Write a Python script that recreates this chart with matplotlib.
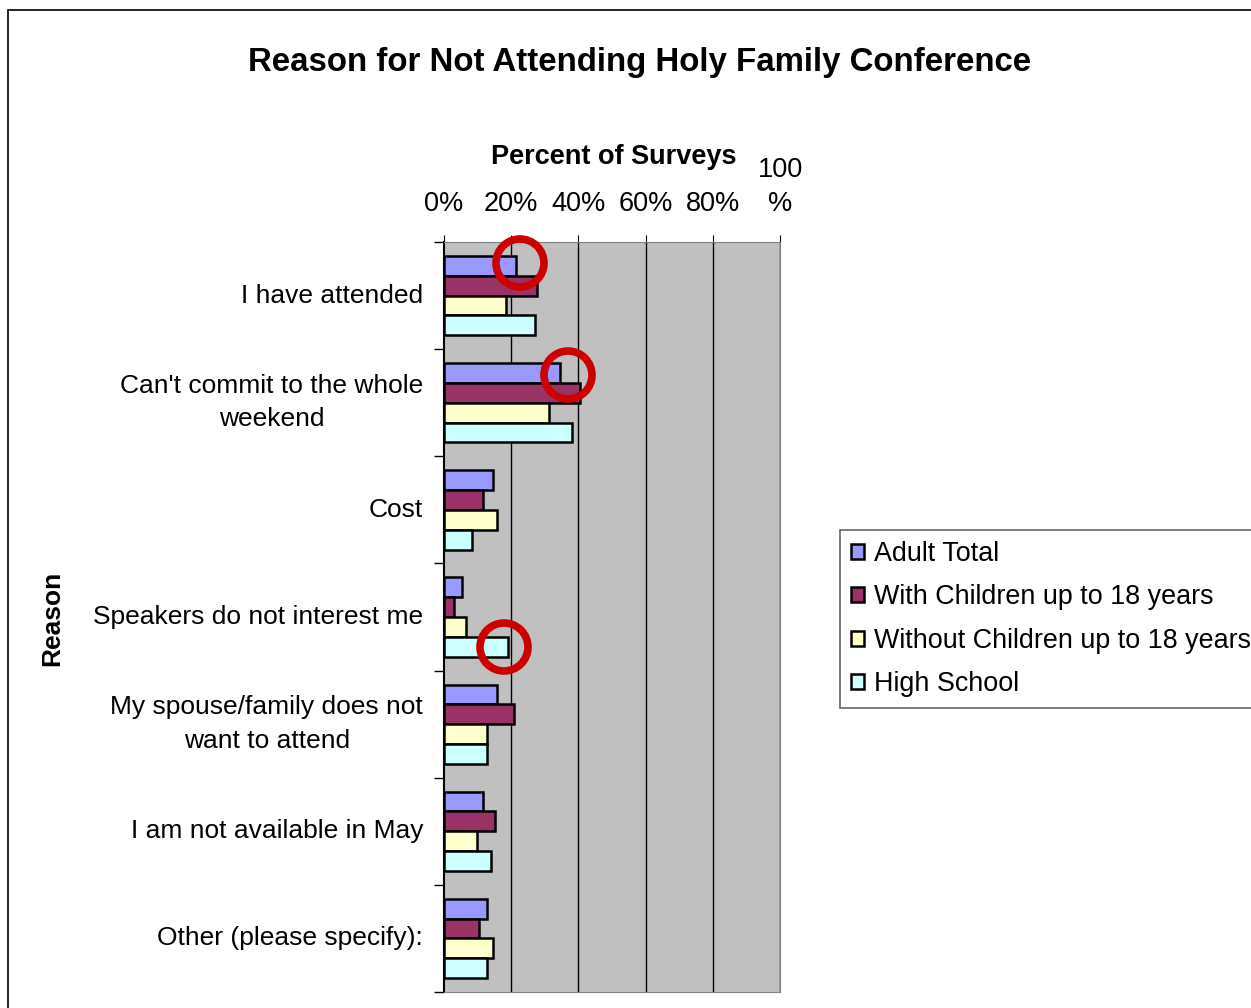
import numpy as np
import matplotlib
matplotlib.use("Agg")
import matplotlib.pyplot as plt
from matplotlib.patches import Circle, Rectangle
from matplotlib.transforms import IdentityTransform

plt.rcParams['font.family'] = ['Liberation Sans', 'DejaVu Sans']

# data (percent of surveys)
reasons = ["I have attended",
           "Can't commit to the whole\nweekend",
           "Cost",
           "Speakers do not interest me",
           "My spouse/family does not\nwant to attend",
           "I am not available in May",
           "Other (please specify):"]
series = ["Adult Total", "With Children up to 18 years",
          "Without Children up to 18 years", "High School"]
adult_total = [21.4, 34.4, 14.6, 5.4, 15.9, 11.5, 12.9]
with_children = [27.6, 40.5, 11.5, 2.9, 20.8, 15.2, 10.3]
without_children = [18.4, 31.2, 15.9, 6.5, 12.7, 9.7, 14.6]
high_school = [27.0, 38.1, 8.4, 19.0, 12.8, 14.0, 12.9]
colors = ["#9999FF", "#993366", "#FFFFCC", "#CCFFFF"]
xticks = [0, 20, 40, 60, 80, 100]
xticklabels = ["0%", "20%", "40%", "60%", "80%", "100\n%"]

W, H = 1251, 1008
fig = plt.figure(figsize=(W / 100, H / 100), dpi=100)
ax = fig.add_axes([444 / W, 1 - 992 / H, (780 - 444) / W, (992 - 242) / H])
ax.set_facecolor("#C0C0C0")

y = np.arange(len(reasons))
bh = 0.185
vals = [adult_total, with_children, without_children, high_school]
for i, (v, c, name) in enumerate(zip(vals, colors, series)):
    ax.barh(y - 1.5 * bh + i * bh, v, height=bh, color=c, edgecolor="black",
            linewidth=1.8, label=name, zorder=3)

ax.set_xlim(0, 100)
ax.set_ylim(len(reasons) - 0.5, -0.5)
ax.xaxis.tick_top()
ax.set_xticks(xticks)
ax.set_xticklabels(xticklabels, fontsize=19.5, va="bottom", linespacing=1.4)
ax.tick_params(axis="x", length=5, pad=13, color="black")
for g in xticks[1:]:
    ax.axvline(g, color="black", linewidth=1, zorder=1)

ax.set_yticks(y)
ax.set_yticklabels(reasons, fontsize=19, multialignment="center",
                   linespacing=1.5, va="center")
ax.tick_params(axis="y", length=0, pad=15)
ax.set_yticks(np.arange(len(reasons) + 1) - 0.5, minor=True)
ax.tick_params(axis="y", which="minor", length=7, color="black", width=1)

for s in ["top", "bottom", "right"]:
    ax.spines[s].set_color("#808080")
ax.spines["left"].set_color("black")
ax.spines["left"].set_linewidth(1.5)

fig.text(614 / W, 1 - 157 / H, "Percent of Surveys", fontsize=19.5,
         fontweight="bold", ha="center", va="center")
fig.text(640 / W, 1 - 62 / H, "Reason for Not Attending Holy Family Conference",
         fontsize=23.8, fontweight="bold", ha="center", va="center")
fig.text(52 / W, 1 - 618 / H, "Reason", fontsize=19, fontweight="bold",
         rotation=90, ha="center", va="center")

# red highlight circles
for cx, cy in [(520, 263), (568, 375), (504, 647)]:
    fig.add_artist(Circle((cx, H - cy), 24, transform=IdentityTransform(),
                          fill=False, edgecolor="#CC0000", linewidth=5.5, zorder=10))

# outer chart frame
fig.add_artist(Rectangle((8, -20), W + 20, H - 10 + 20, transform=IdentityTransform(),
                         fill=False, edgecolor="black", linewidth=1.2))

leg = ax.legend(loc="upper left", bbox_to_anchor=(840 / W, 1 - 530 / H),
                bbox_transform=fig.transFigure, fontsize=19.4, frameon=True,
                fancybox=False, edgecolor="#404040", handlelength=0.5,
                handleheight=0.5, handletextpad=0.35, labelspacing=0.65,
                borderpad=0.4, borderaxespad=0)
leg.get_frame().set_linewidth(1.2)

fig.savefig("out.png", dpi=100)
